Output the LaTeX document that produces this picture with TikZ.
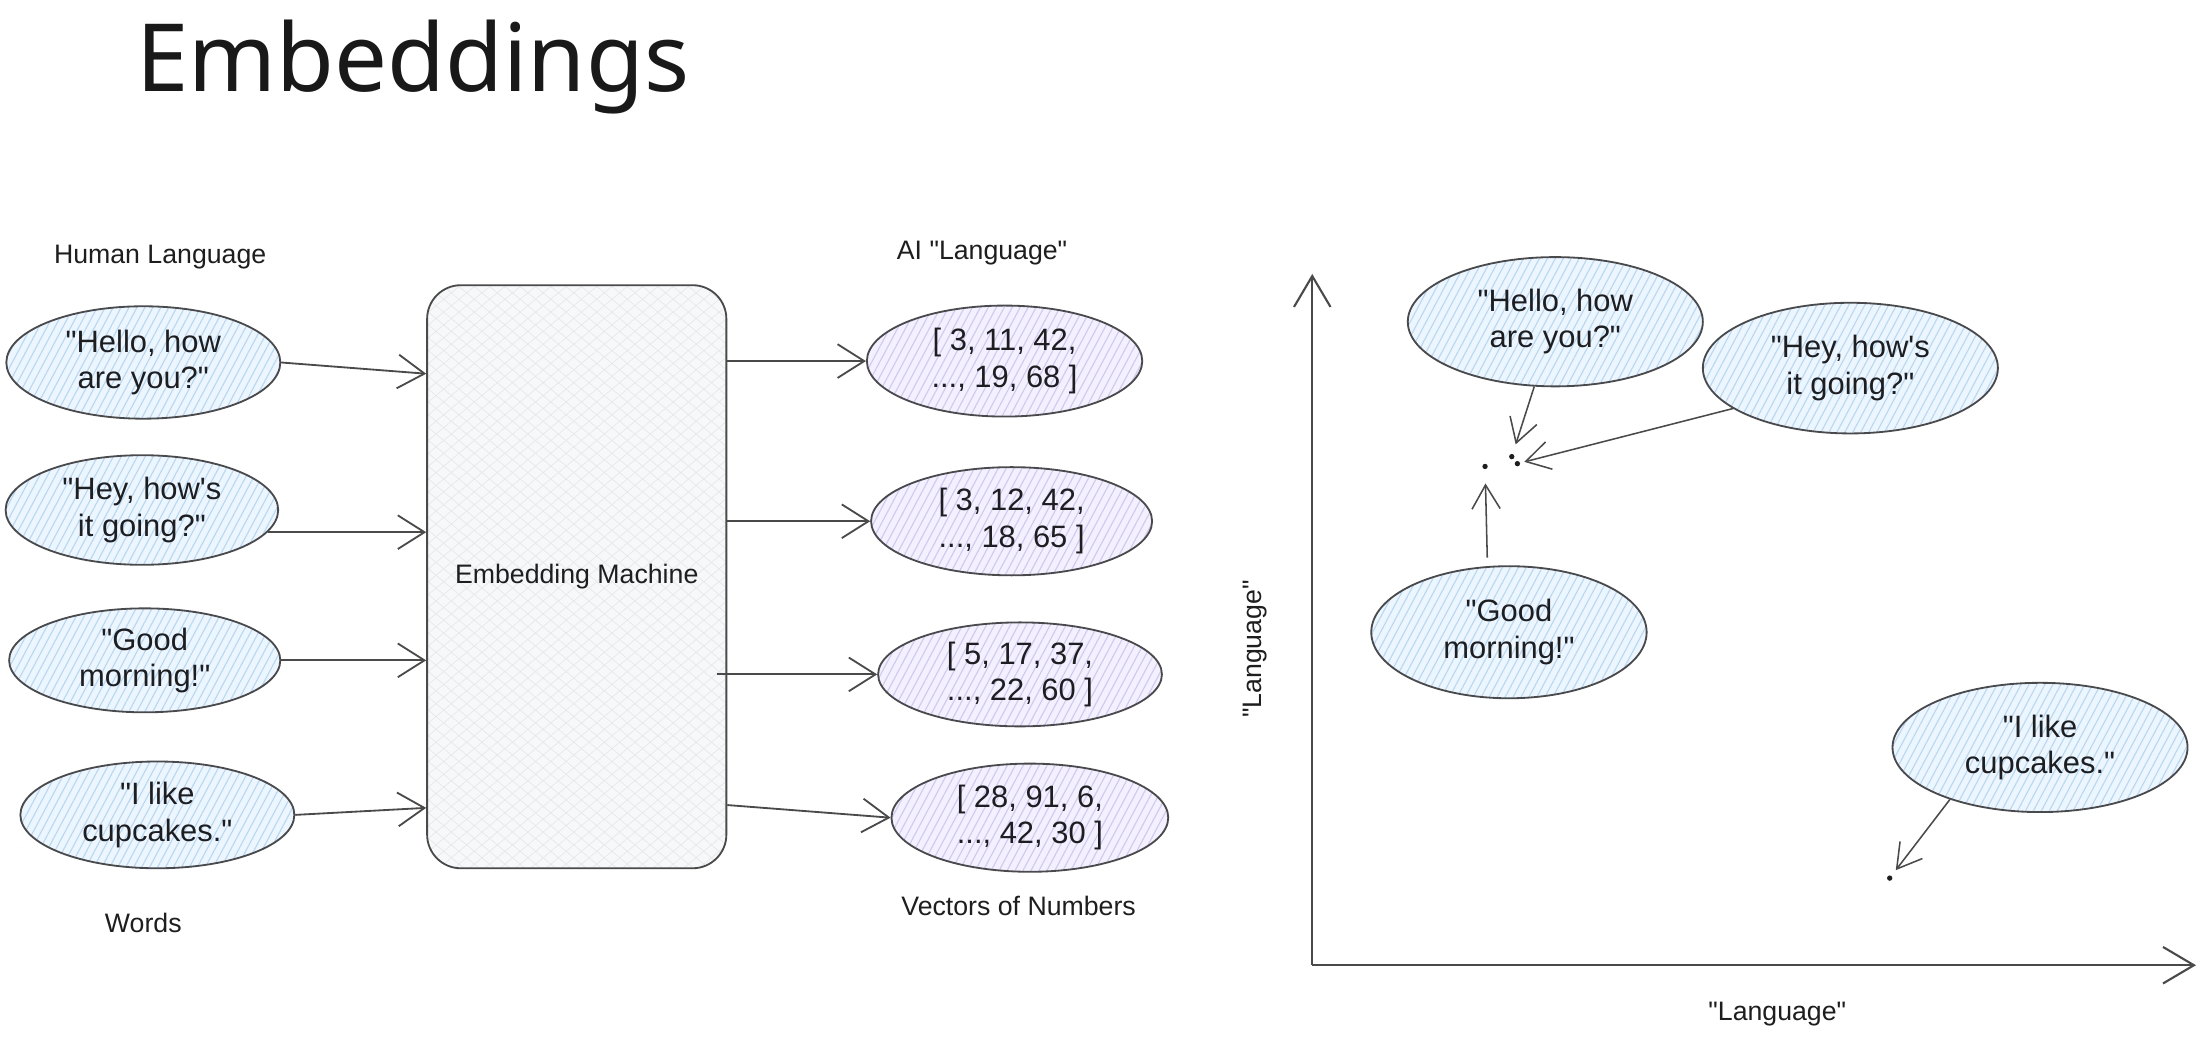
\documentclass[tikz,border=0pt]{standalone}
\usepackage{fontspec}
\setmainfont{Liberation Sans}[Ligatures=TeXOff]
\newfontfamily\titlefont{Noto Sans}
\usetikzlibrary{shapes.geometric,arrows.meta,patterns.meta}
\definecolor{ink}{HTML}{1E1E1E}
\definecolor{strokec}{HTML}{4A4A4A}
\definecolor{bluefill}{HTML}{EDF6FF}
\definecolor{bluehatch}{HTML}{B3D9FA}
\definecolor{purpfill}{HTML}{F3F0FF}
\definecolor{purphatch}{HTML}{D2C7F5}
\definecolor{boxfill}{HTML}{F7F8F9}
\definecolor{boxhatch}{HTML}{E6E8EB}
\begin{document}
\begin{tikzpicture}[x=1pt,y=-1pt,
  txt/.style={text=ink, font=\fontsize{22}{26}\selectfont, align=center},
  lbl/.style={text=ink, font=\fontsize{19}{23}\selectfont},
  bub/.style={ellipse, draw=strokec, line width=1.3pt, inner sep=0pt, txt,
    preaction={fill=bluefill},
    preaction={pattern={Lines[angle=62,distance=5pt,line width=0.8pt]}, pattern color=bluehatch}},
  vec/.style={ellipse, draw=strokec, line width=1.3pt, inner sep=0pt, txt,
    preaction={fill=purpfill},
    preaction={pattern={Lines[angle=62,distance=5pt,line width=0.8pt]}, pattern color=purphatch}},
  conn/.style={draw=strokec, line width=1.3pt, -{Straight Barb[length=19pt,width=24pt]}},
  thinconn/.style={draw=strokec, line width=1.1pt, -{Straight Barb[length=17pt,width=20pt]}},
  axis/.style={draw=strokec, line width=1.5pt, -{Straight Barb[length=22pt,width=26pt]}},
  dotn/.style={circle, fill=ink, inner sep=0pt, minimum size=3.8pt}
]
\useasboundingbox (0,0) rectangle (1568,743);
\fill[white] (0,0) rectangle (1568,743);

% title
\node[anchor=base west, inner sep=0pt, text=black!90, font=\titlefont\fontsize{67}{80}\selectfont] (title) at (97,65) {Embeddings};

% left labels
\node[lbl] (hl) at (114,183) {Human Language};
\node[lbl] (words) at (102,657) {Words};
\node[lbl] (ail) at (699,180) {AI "Language"};
\node[lbl] (von) at (725,645) {Vectors of Numbers};

% word ellipses
\node[bub, minimum width=195pt, minimum height=80pt] (e1) at (102,258) {"Hello, how\\are you?"};
\node[bub, minimum width=194pt, minimum height=78pt] (e2) at (101,363) {"Hey, how's\\it going?"};
\node[bub, minimum width=193pt, minimum height=74pt] (e3) at (103,470) {"Good\\morning!"};
\node[bub, minimum width=195pt, minimum height=76pt] (e4) at (112,580) {"I like\\cupcakes."};

% machine
\node[draw=strokec, line width=1.3pt, rounded corners=24pt, minimum width=213pt, minimum height=415pt,
  preaction={fill=boxfill},
  preaction={pattern={Lines[angle=40,distance=7pt,line width=0.5pt]}, pattern color=boxhatch},
  preaction={pattern={Lines[angle=-40,distance=7pt,line width=0.5pt]}, pattern color=boxhatch},
  lbl] (box) at (410.5,410.5) {Embedding Machine};

% vector ellipses
\node[vec, minimum width=196pt, minimum height=79pt] (p1) at (715,257) {[ 3, 11, 42,\\..., 19, 68 ]};
\node[vec, minimum width=200pt, minimum height=77pt] (p2) at (720,371) {[ 3, 12, 42,\\..., 18, 65 ]};
\node[vec, minimum width=202pt, minimum height=74pt] (p3) at (726,480) {[ 5, 17, 37,\\..., 22, 60 ]};
\node[vec, minimum width=197pt, minimum height=77pt] (p4) at (733,582) {[ 28, 91, 6,\\..., 42, 30 ]};

% arrows into machine
\draw[conn] (e1.east) -- (box.west |- 0,266);
\draw[conn] (e2.-10) -- (box.west |- e2.-10);
\draw[conn] (e3.east) -- (box.west |- e3.east);
\draw[conn] (e4.east) -- (box.west |- 0,575);

% arrows out of machine
\draw[conn] (box.east |- p1.west) -- (p1.west);
\draw[conn] (box.east |- p2.west) -- (p2.west);
\draw[conn] ([xshift=-7pt]box.east |- p3.west) -- (p3.west);
\draw[conn] (box.east |- 0,573) -- (p4.west);

% graph axes
\coordinate (O) at (934,687);
\coordinate (ytop) at (934,195);
\coordinate (xend) at (1563,687);
\draw[axis] (O) -- (ytop);
\draw[axis] (O) -- (xend);
\node[lbl, rotate=90] (ylab) at (893,462) {"Language"};
\node[lbl] (xlab) at (1265,722) {"Language"};

% points
\node[dotn] (d1) at (1057,332) {};
\node[dotn] (d2) at (1076,325) {};
\node[dotn] (d3) at (1080,330) {};
\node[dotn] (d4) at (1345,625) {};

% graph ellipses
\node[bub, minimum width=210pt, minimum height=92pt] (g1) at (1107,229) {"Hello, how\\are you?"};
\node[bub, minimum width=210pt, minimum height=93pt] (g2) at (1317,262) {"Hey, how's\\it going?"};
\node[bub, minimum width=196pt, minimum height=94pt] (g3) at (1074,450) {"Good\\morning!"};
\node[bub, minimum width=210pt, minimum height=92pt] (g4) at (1452,532) {"I like\\cupcakes."};

% graph arrows
\draw[thinconn, shorten >=7pt] (g1.252) -- (d2);
\draw[thinconn, shorten >=3pt] (g2.199) -- (d3);
\draw[thinconn, shorten >=10pt, shorten <=6pt] (g3.108) -- (d1);
\draw[thinconn, shorten >=5pt] (g4.210) -- (d4);
\end{tikzpicture}
\end{document}
